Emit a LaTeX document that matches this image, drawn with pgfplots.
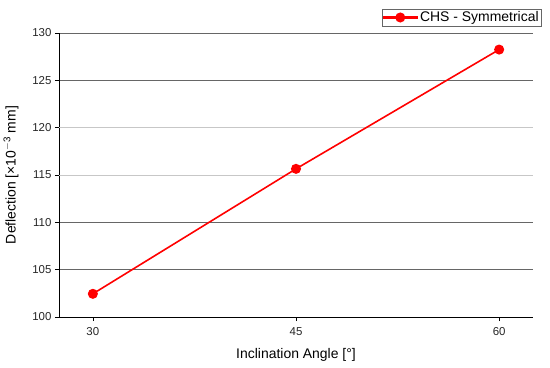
\documentclass[border=0pt]{standalone}
\usepackage{fontspec}
\setmainfont{Liberation Sans}
\usepackage{pgfplots}
\pgfplotsset{compat=1.18}

\begin{document}
\begin{tikzpicture}[x=1bp,y=1bp]
\begin{axis}[
    at={(0,0)}, anchor=south west,
    scale only axis,
    width=474bp, height=284bp,
    xmin=27.5, xmax=62.5,
    ymin=100, ymax=130,
    axis x line*=bottom,
    axis y line*=left,
    axis line style={black, line width=0.8pt, -},
    xtick={30,45,60},
    ytick={100,105,110,125,130},
    extra y ticks={115,120},
    extra y tick style={grid style={black!22, line width=0.8pt}},
    minor y tick num=1,
    tick align=outside,
    major tick length=4bp, minor tick length=2.5bp,
    tick style={black, line width=0.7pt},
    ymajorgrids=true,
    grid style={black!60, line width=0.8pt},
    tick label style={font=\fontsize{11.5}{13}\selectfont, text=black!85},
    xticklabel style={yshift=-3bp},
    /pgf/number format/assume math mode=true,
    xlabel={Inclination Angle [°]},
    ylabel={Deflection [×10\textsuperscript{$-$3} mm]},
    label style={font=\fontsize{14}{16}\selectfont},
    xlabel style={yshift=-6bp},
    ylabel style={yshift=-1bp},
    legend style={at={(0.681,1.0845)}, anchor=north west,
        draw=black!60, font=\fontsize{14}{16}\selectfont,
        inner sep=0.5bp, row sep=0pt},
    legend cell align=left,
]
\addplot[red, line width=1.6pt, mark=*, mark size=4.2bp, mark options={fill=red, draw=red},
    legend image code/.code={
        \fill[red] (0bp,-0.8bp) rectangle (34bp,0.8bp);
        \fill[red] (17bp,0bp) circle[radius=4.2bp];}]
    coordinates {(30,102.45) (45,115.65) (60,128.25)};
\addlegendentry{CHS - Symmetrical}
\end{axis}
\pgfresetboundingbox
\path[use as bounding box] (-59,-50) rectangle (491,317);
\end{tikzpicture}
\end{document}
